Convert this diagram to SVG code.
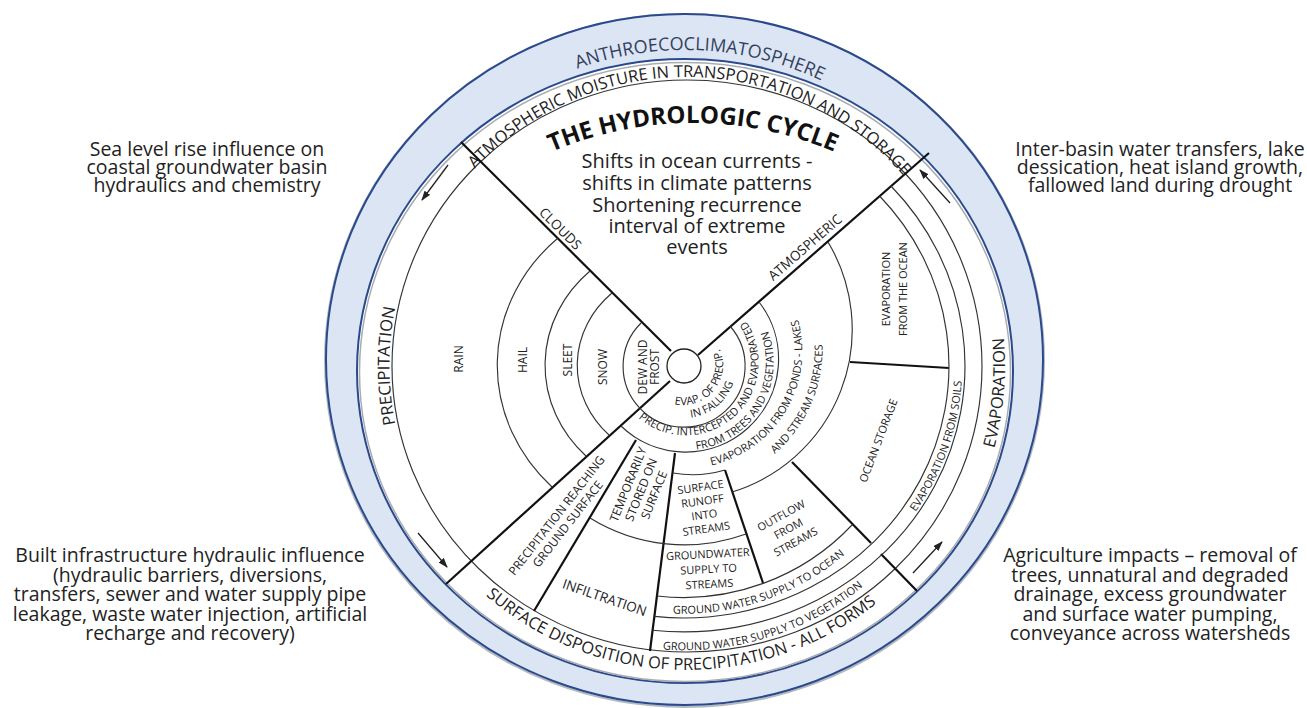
<svg xmlns="http://www.w3.org/2000/svg" width="1307" height="708" viewBox="0 0 1307 708">
<style>
text{font-family:"Open Sans","Noto Sans","DejaVu Sans",sans-serif;fill:#222}
.side{font-size:19.5px;text-anchor:middle}
.thin{fill:none;stroke:#333;stroke-width:1.15}
.thick{fill:none;stroke:#111;stroke-width:2.2}
.s11{font-size:11px}
.s12{font-size:12px}
.s13{font-size:13.5px}
.mid{text-anchor:middle}
.band{font-size:16.5px}
.arr{stroke:#222;stroke-width:1.3;fill:none;marker-end:url(#ah)}
</style>
<defs>
<marker id="ah" markerWidth="10" markerHeight="7" refX="9" refY="3.5" orient="auto" markerUnits="userSpaceOnUse"><path d="M0,0 L10,3.5 L0,7 z" fill="#222"/></marker>
<path id="pAnthro" d="M365,370 A320,320 0 0,1 1005,370"/>
<path id="pAtmo" d="M397,361 A289,289 0 0,1 975,371"/>
<path id="pTitle" d="M510,173 A360,360 0 0,1 876,173"/>
<path id="pPrec" d="M429,514 A297,297 0 0,1 429,218"/>
<path id="pEvap" d="M931,570 A318,318 0 0,0 931,162"/>
<path id="pSurf" d="M385,419 A306,306 0 0,0 987,419"/>
<path id="pEvF1" d="M649,386 A40,40 0 1,0 704,331"/>
<path id="pEvF2" d="M639,392 A52,52 0 1,0 710,321"/>
<path id="pInt1" d="M617,387 A73,73 0 1,0 722,299"/>
<path id="pInt2" d="M603,392 A88,88 0 1,0 730,286"/>
<path id="pPond1" d="M609,440 A117,117 0 0,0 774,275"/>
<path id="pPond2" d="M594,457 A140,140 0 0,0 791,260"/>
<path id="pGwo" d="M641,610 A248,248 0 0,0 874,525"/>
<path id="pGwv" d="M634,646 A284,284 0 0,0 901,549"/>
<path id="pSoil" d="M823,594 A278,263 0 0,0 897,197"/>
</defs>

<g id="outer-ring">
<ellipse cx="684.5" cy="360.5" rx="359.5" ry="346.5" fill="none" stroke="#b5b9c0" stroke-width="2"/>
<ellipse cx="684.5" cy="359.5" rx="358.5" ry="345.5" fill="#dce5f3" stroke="#2a4a8c" stroke-width="2"/>
<ellipse cx="685" cy="371" rx="328" ry="312" fill="#fff" stroke="#2a4a8c" stroke-width="2"/>
<ellipse cx="685" cy="372" rx="325.5" ry="309.5" fill="none" stroke="#a9adb3" stroke-width="1.5"/>
<text font-size="18" style="fill:#33415f"><textPath href="#pAnthro" startOffset="518" text-anchor="middle">ANTHROECOCLIMATOSPHERE</textPath></text>
</g>

<g id="band-ring">
<ellipse cx="687" cy="366" rx="295" ry="286" class="thin"/>
<text class="band" font-size="15.8"><textPath href="#pAtmo" startOffset="50%" text-anchor="middle">ATMOSPHERIC MOISTURE IN TRANSPORTATION AND STORAGE</textPath></text>
<text class="band" font-size="18"><textPath href="#pPrec" startOffset="155" text-anchor="middle">PRECIPITATION</textPath></text>
<text class="band" font-size="18"><textPath href="#pEvap" startOffset="194" text-anchor="middle">EVAPORATION</textPath></text>
<text class="band"><textPath href="#pSurf" startOffset="419" text-anchor="middle">SURFACE DISPOSITION OF PRECIPITATION - ALL FORMS</textPath></text>
</g>

<g id="connectors">
<path class="thick" d="M461,142 L671,351"/>
<path class="thick" d="M929,153 L698,355"/>
<path class="thick" d="M446,584 L670,381"/>
<path class="thick" d="M917,591 L881,554"/>
<path class="thick" d="M871,543 L792,462"/>
<path class="thick" d="M675,453 L650,651"/>
<path class="thick" d="M636,440 L534,611"/>
<path class="thick" d="M725,470 L763,583"/>
<path class="thick" d="M850,362 L949,368"/>
<path class="thin" d="M641,323 A61,61 0 1,0 730,326"/>
<path class="thin" d="M612,293 A107,98 0 0,0 609,435"/>
<path class="thin" d="M590,271 A139,128 0 0,0 586,456"/>
<path class="thin" d="M558,238 A186,172 0 0,0 552,487"/>
<path class="thin" d="M621,426 A93,93 0 0,0 759,302"/>
<path class="thin" d="M732,492 A170,170 0 0,0 828,242"/>
<path class="thin" d="M673,473 A115,115 0 0,0 725,470"/>
<path class="thin" d="M590,518 A180,180 0 0,0 746,534"/>
<path class="thin" d="M657,596 A232,232 0 0,0 852.5,524.5"/>
<path class="thin" d="M879.6,196 A265,252 0 0,1 654.4,616.4"/>
<path class="thin" d="M891,186 A281,266 0 0,1 652.6,630.2"/>
<path class="arr" d="M448,165 L422,200"/>
<path class="arr" d="M418,533 L447,567"/>
<path class="arr" d="M913,573 L942,542"/>
<path class="arr" d="M950,203 L920,170"/>
</g>

<g id="center">
<circle cx="684" cy="366" r="17" fill="#fff" stroke="#222" stroke-width="1.3"/>
</g>

<g id="title">
<text font-size="24" font-weight="bold" style="fill:#111"><textPath href="#pTitle" startOffset="50%" text-anchor="middle">THE HYDROLOGIC CYCLE</textPath></text>
<text font-size="20" class="mid" x="697" y="168">Shifts in ocean currents -</text>
<text font-size="20" class="mid" x="697" y="190">shifts in climate patterns</text>
<text font-size="20" class="mid" x="697" y="212">Shortening recurrence</text>
<text font-size="20" class="mid" x="697" y="233">interval of extreme</text>
<text font-size="20" class="mid" x="697" y="254">events</text>
</g>

<g id="divider-labels">
<text class="s13 mid" transform="translate(557,232) rotate(44.7)">CLOUDS</text>
<text class="s13 mid" transform="translate(808,251) rotate(-41)">ATMOSPHERIC</text>
</g>

<g id="precip-types">
<text class="s12 mid" transform="translate(463,359) rotate(-90)">RAIN</text>
<text class="s12 mid" transform="translate(527,360) rotate(-90)">HAIL</text>
<text class="s12 mid" transform="translate(572,360) rotate(-90)">SLEET</text>
<text class="s12 mid" transform="translate(607,367) rotate(-90)">SNOW</text>
<text class="s12 mid" transform="translate(652,367) rotate(-90)"><tspan x="0" y="-5">DEW AND</tspan><tspan x="0" y="6.5">FROST</tspan></text>
</g>

<g id="inner-rings">
<text class="s11"><textPath href="#pEvF1" startOffset="76" text-anchor="middle">EVAP. OF PRECIP.</textPath></text>
<text class="s11"><textPath href="#pEvF2" startOffset="90" text-anchor="middle">IN FALLING</textPath></text>
<text class="s11"><textPath href="#pInt1" startOffset="143" text-anchor="middle">PRECIP. INTERCEPTED AND EVAPORATED</textPath></text>
<text class="s11"><textPath href="#pInt2" startOffset="198" text-anchor="middle">FROM TREES AND VEGETATION</textPath></text>
<text class="s11"><textPath href="#pPond1" startOffset="204" text-anchor="middle">EVAPORATION FROM  PONDS - LAKES</textPath></text>
<text class="s11"><textPath href="#pPond2" startOffset="258" text-anchor="middle">AND STREAM SURFACES</textPath></text>
</g>

<g id="ocean">
<text class="s11 mid" transform="translate(893,289) rotate(-90)"><tspan x="0" y="-3">EVAPORATION</tspan><tspan x="0" y="14">FROM THE OCEAN</tspan></text>
<text class="s11 mid" transform="translate(882,442) rotate(-69)">OCEAN STORAGE</text>
<text class="s11"><textPath href="#pSoil" startOffset="195" text-anchor="middle">EVAPORATION FROM SOILS</textPath></text>
</g>

<g id="surface-cells">
<text class="s12 mid" transform="translate(560,518) rotate(-52)"><tspan x="0" y="0">PRECIPITATION REACHING</tspan><tspan x="0" y="14">GROUND SURFACE</tspan></text>
<text class="s12 mid" transform="translate(632,486) rotate(-68)"><tspan x="0" y="0">TEMPORARILY</tspan><tspan x="0" y="14">STORED ON</tspan><tspan x="0" y="28">SURFACE</tspan></text>
<text class="s13 mid" transform="translate(603,602) rotate(19)">INFILTRATION</text>
<text class="s11 mid" transform="translate(701,491) rotate(-8)"><tspan x="0" y="0">SURFACE</tspan><tspan x="0" y="14">RUNOFF</tspan><tspan x="0" y="28">INTO</tspan><tspan x="0" y="42">STREAMS</tspan></text>
<text class="s11 mid" transform="translate(783,519) rotate(-29)"><tspan x="0" y="0">OUTFLOW</tspan><tspan x="0" y="15">FROM</tspan><tspan x="0" y="30">STREAMS</tspan></text>
<text class="s11 mid" transform="translate(708,558) rotate(-3)"><tspan x="0" y="0">GROUNDWATER</tspan><tspan x="0" y="15">SUPPLY TO</tspan><tspan x="0" y="30">STREAMS</tspan></text>
<text class="s11"><textPath href="#pGwo" startOffset="32">GROUND WATER SUPPLY TO OCEAN</textPath></text>
<text class="s11"><textPath href="#pGwv" startOffset="29">GROUND WATER SUPPLY TO VEGETATION</textPath></text>
</g>

<g id="note-top-left">
<text class="side" x="207" y="156">Sea level rise influence on</text>
<text class="side" x="207" y="174">coastal groundwater basin</text>
<text class="side" x="207" y="192">hydraulics and chemistry</text>
</g>
<g id="note-top-right">
<text class="side" x="1160" y="156">Inter-basin water transfers, lake</text>
<text class="side" x="1160" y="174">dessication, heat island growth,</text>
<text class="side" x="1160" y="192">fallowed land during drought</text>
</g>
<g id="note-bottom-left">
<text class="side" x="190" y="562">Built infrastructure hydraulic influence</text>
<text class="side" x="190" y="581.5">(hydraulic barriers, diversions,</text>
<text class="side" x="190" y="601">transfers, sewer and water supply pipe</text>
<text class="side" x="190" y="620.5">leakage, waste water injection, artificial</text>
<text class="side" x="190" y="640">recharge and recovery)</text>
</g>
<g id="note-bottom-right">
<text class="side" x="1150" y="562">Agriculture impacts – removal of</text>
<text class="side" x="1150" y="581.5">trees, unnatural and degraded</text>
<text class="side" x="1150" y="601">drainage, excess groundwater</text>
<text class="side" x="1150" y="620.5">and surface water pumping,</text>
<text class="side" x="1150" y="640">conveyance across watersheds</text>
</g>
</svg>
